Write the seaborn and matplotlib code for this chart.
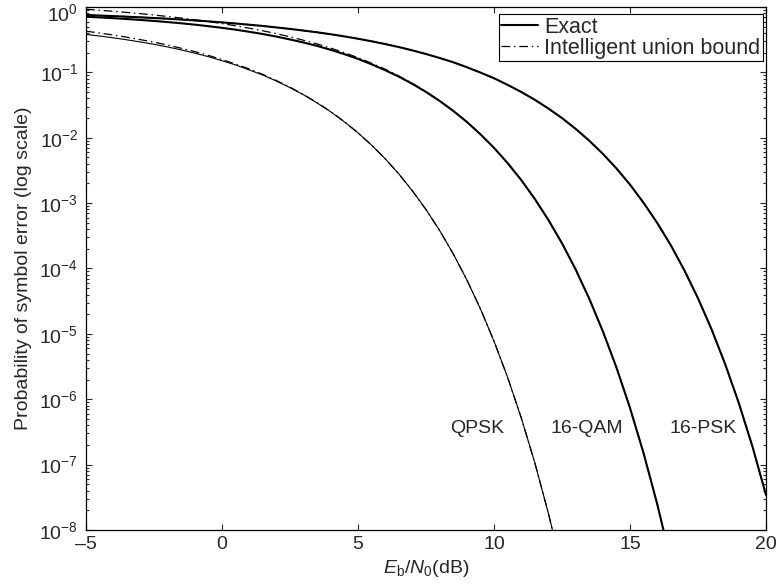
import numpy as np
import pandas as pd
import matplotlib
matplotlib.use("Agg")
import matplotlib.pyplot as plt
from matplotlib.ticker import LogLocator, NullFormatter
from matplotlib.lines import Line2D
from matplotlib.transforms import ScaledTranslation
import seaborn as sns

# Eb/N0 grids (dB), half-dB steps
qpsk_db = np.arange(-5, 13.5, 0.5)
qam_db = np.arange(-5, 17.5, 0.5)
psk_db = np.arange(-5, 20.5, 0.5)

# symbol error probabilities
qpsk_exact = [0.381, 0.360, 0.338, 0.315, 0.292, 0.269, 0.245, 0.221, 0.197, 0.174,
              0.151, 0.130, 0.109, 0.0910, 0.0736, 0.0584, 0.0453, 0.0340, 0.0249, 0.0175,
              0.0119, 7.70e-3, 4.77e-3, 2.80e-3, 1.54e-3, 7.97e-4, 3.82e-4, 1.68e-4, 6.73e-5,
              2.42e-5, 7.74e-6, 2.17e-6, 5.23e-7, 1.07e-7, 1.80e-8, 2.46e-9, 2.66e-10]
qpsk_union = [0.427, 0.400, 0.373, 0.345, 0.317, 0.290, 0.262, 0.234, 0.208, 0.182,
              0.157, 0.134, 0.113, 0.0932, 0.0750, 0.0593, 0.0458, 0.0343, 0.0251, 0.0176,
              0.0119, 7.72e-3, 4.78e-3, 2.80e-3, 1.54e-3, 7.97e-4, 3.82e-4, 1.68e-4, 6.73e-5,
              2.42e-5, 7.74e-6, 2.17e-6, 5.23e-7, 1.07e-7, 1.80e-8, 2.46e-9, 2.66e-10]

qam_exact = [0.710, 0.693, 0.675, 0.655, 0.634, 0.612, 0.588, 0.564, 0.537, 0.509,
             0.480, 0.450, 0.418, 0.386, 0.353, 0.319, 0.286, 0.254, 0.221, 0.190,
             0.161, 0.133, 0.108, 0.0861, 0.0667, 0.0502, 0.0366, 0.0258, 0.0175, 0.0113,
             7.01e-3, 4.10e-3, 2.26e-3, 1.16e-3, 5.53e-4, 2.43e-4, 9.71e-5, 3.46e-5, 1.10e-5,
             3.07e-6, 7.37e-7, 1.49e-7, 2.50e-8, 3.39e-9, 3.62e-10]
qam_union = [0.923, 0.892, 0.860, 0.825, 0.791, 0.755, 0.716, 0.679, 0.638, 0.599,
             0.557, 0.516, 0.474, 0.433, 0.391, 0.350, 0.310, 0.272, 0.235, 0.200,
             0.168, 0.138, 0.112, 0.0880, 0.0679, 0.0508, 0.0370, 0.0260, 0.0176, 0.0114,
             7.02e-3, 4.10e-3, 2.26e-3, 1.16e-3, 5.53e-4, 2.43e-4, 9.71e-5, 3.46e-5, 1.10e-5,
             3.07e-6, 7.37e-7, 1.49e-7, 2.50e-8, 3.39e-9, 3.62e-10]

psk_exact = [0.753, 0.740, 0.726, 0.711, 0.695, 0.678, 0.662, 0.643, 0.623, 0.603,
             0.582, 0.559, 0.536, 0.513, 0.487, 0.462, 0.436, 0.410, 0.383, 0.355,
             0.327, 0.299, 0.271, 0.244, 0.217, 0.191, 0.166, 0.143, 0.120, 0.0994,
             0.0814, 0.0644, 0.0502, 0.0381, 0.0280, 0.0200, 0.0137, 9.03e-3, 5.69e-3, 3.40e-3,
             1.92e-3, 1.01e-3, 4.98e-4, 2.27e-4, 9.36e-5, 3.50e-5, 1.17e-5, 3.43e-6, 8.74e-7,
             1.90e-7, 3.43e-8]
psk_union = [0.756, 0.743, 0.728, 0.713, 0.696, 0.679, 0.662, 0.643, 0.623, 0.603,
             0.582, 0.559, 0.536, 0.513, 0.487, 0.462, 0.436, 0.410, 0.383, 0.355,
             0.327, 0.299, 0.271, 0.244, 0.217, 0.191, 0.166, 0.143, 0.120, 0.0994,
             0.0814, 0.0644, 0.0502, 0.0381, 0.0280, 0.0200, 0.0137, 9.03e-3, 5.69e-3, 3.40e-3,
             1.92e-3, 1.01e-3, 4.98e-4, 2.27e-4, 9.36e-5, 3.50e-5, 1.17e-5, 3.43e-6, 8.74e-7,
             1.90e-7, 3.43e-8]

curve_names = ["QPSK", "16-QAM", "16-PSK"]
label_x = [9.4, 13.4, 17.7]
label_y = [3.6e-7, 3.6e-7, 3.6e-7]

sns.set_style("ticks")
plt.rcParams["font.family"] = ["Liberation Sans", "DejaVu Sans"]
plt.rcParams["mathtext.fontset"] = "custom"
plt.rcParams["mathtext.rm"] = "Liberation Sans"
plt.rcParams["mathtext.it"] = "Liberation Sans:italic"
plt.rcParams["font.size"] = 14

fig = plt.figure(figsize=(7.83, 5.84), dpi=100)
ax = fig.add_axes([0.1098, 0.0925, 0.8685, 0.8955])

dash_dot = (0, (7, 3, 1.2, 3))
widths = {"QPSK": 0.8, "16-QAM": 1.5, "16-PSK": 1.5}
series = [("QPSK", qpsk_db, qpsk_exact, qpsk_union),
          ("16-QAM", qam_db, qam_exact, qam_union),
          ("16-PSK", psk_db, psk_exact, psk_union)]

# exact curves first, bounds on top
for name, xdb, ex, ub in series:
    sns.lineplot(x=xdb, y=ex, ax=ax, color="black", lw=widths[name], estimator=None)
for name, xdb, ex, ub in series:
    sns.lineplot(x=xdb, y=ub, ax=ax, color="black", lw=0.9, linestyle=dash_dot, estimator=None)

ax.set_yscale("log")
ax.set_xlim(-5, 20)
ax.set_ylim(1e-8, 1)
ax.set_xticks([-5, 0, 5, 10, 15, 20])
ax.xaxis.set_major_formatter(plt.FuncFormatter(lambda v, p: f"{v:.0f}".replace("-", "\u2013")))
ax.yaxis.set_major_locator(LogLocator(base=10, numticks=20))
ax.yaxis.set_minor_locator(LogLocator(base=10, subs=np.arange(2, 10), numticks=20))
ax.yaxis.set_minor_formatter(NullFormatter())
ax.tick_params(which="both", direction="in", top=True, right=True, width=0.8, labelsize=14)
ax.tick_params(which="major", length=4.5)
ax.tick_params(which="minor", length=2.5)
ax.tick_params(axis="x", pad=4.5)
ax.tick_params(axis="y", pad=5.5)
ax.xaxis.offsetText.set_visible(False)
ax.yaxis.offsetText.set_visible(False)
for s in ax.spines.values():
    s.set_linewidth(0.9)
    s.set_color("black")

for name, lx, ly in zip(curve_names, label_x, label_y):
    ax.text(lx, ly, name, ha="center", va="center", fontsize=14)

ax.set_xlabel(r"$E_{\mathrm{b}}/N_0$(dB)", fontsize=14)
ax.set_ylabel("Probability of symbol error (log scale)", fontsize=14)
ax.xaxis.set_label_coords(0.5, -0.054)
ax.yaxis.set_label_coords(-0.079, 0.5)

handles = [Line2D([], [], color="black", lw=1.5),
           Line2D([], [], color="black", lw=0.9, linestyle=dash_dot)]
leg = ax.legend(handles, ["Exact", "Intelligent union bound"], loc="upper right",
                bbox_to_anchor=(0.9956, 0.9866), borderaxespad=0,
                fancybox=False, edgecolor="black", framealpha=1, borderpad=0.12,
                handlelength=1.7, handletextpad=0.3, labelspacing=0.0, fontsize=15.5)
leg.get_frame().set_linewidth(0.8)

# the top label (10^0) sits a little below its tick, as in the original
fig.canvas.draw()
for t in ax.yaxis.get_major_ticks():
    if abs(t.get_loc() - 1.0) < 1e-9:
        t.label1.set_transform(t.label1.get_transform() + ScaledTranslation(0, -0.05, fig.dpi_scale_trans))

fig.savefig("out.png", dpi=100)
